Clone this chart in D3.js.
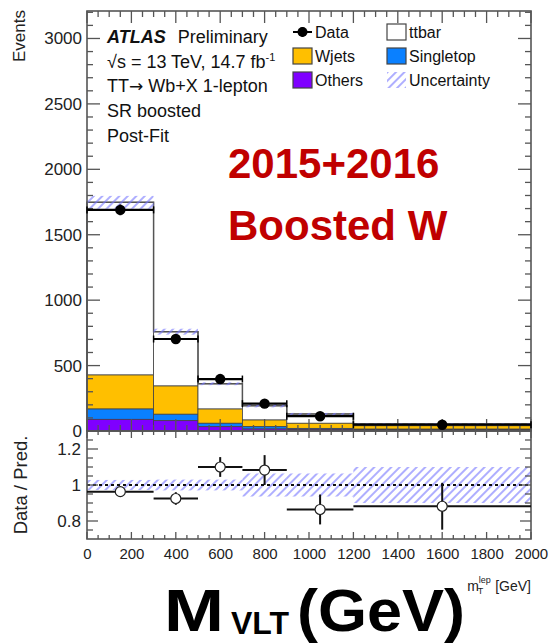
<!DOCTYPE html>
<html><head><meta charset="utf-8">
<script src="https://cdn.jsdelivr.net/npm/d3@7"></script>
<style>body{margin:0;background:#fff}svg{display:block;font-family:Arial,"Liberation Sans",sans-serif}</style>
</head><body><svg id="c" width="549" height="644"></svg>
<script>
// ---- data ----
const binEdges = [0, 300, 500, 700, 900, 1200, 2000];
const others    = [89, 79, 33, 15, 12, 8];
const singletop = [79, 49, 26, 18, 8, 6];
const wjets     = [260, 216, 109, 51, 39, 26];
const ttbar     = [1320, 415, 193, 109, 71, 14];
const dataVals  = [1690, 703, 397, 209, 113, 48];
const dataErr   = [41, 27, 20, 14, 11, 7];
const ratioVals = [0.963, 0.925, 1.10, 1.083, 0.864, 0.882];
const ratioErr  = [0.02, 0.035, 0.055, 0.083, 0.083, 0.13];
const relUnc    = [0.028, 0.03, 0.03, 0.064, 0.064, 0.10];
const xTicks = [0, 200, 400, 600, 800, 1000, 1200, 1400, 1600, 1800, 2000];
const yTicks = [0, 500, 1000, 1500, 2000, 2500, 3000];
const rTicks = [0.8, 1, 1.2];
const legendItems = [
  {name: "Data", kind: "data", col: 0, row: 0},
  {name: "Wjets", kind: "box", fill: "#FFBF00", col: 0, row: 1},
  {name: "Others", kind: "box", fill: "#7F00FF", col: 0, row: 2},
  {name: "ttbar", kind: "box", fill: "#FFFFFF", col: 1, row: 0},
  {name: "Singletop", kind: "box", fill: "#0A80FF", col: 1, row: 1},
  {name: "Uncertainty", kind: "hatch", col: 1, row: 2}
];
const colors = {ttbar: "#FFFFFF", wjets: "#FFBF00", singletop: "#0A80FF", others: "#7F00FF"};

// ---- layout ----
const svg = d3.select("#c");
const L = 87, R = 531, T = 11, MB = 431, RB = 539;
const x = d3.scaleLinear().domain([0, 2000]).range([L, R]);
const y = d3.scaleLinear().domain([0, 3210]).range([MB, T]);
const yr = d3.scaleLinear().domain([0.7, 1.3]).range([RB, MB]);
const axisCol = "#555";

const defs = svg.append("defs");
const pat = defs.append("pattern").attr("id", "hatch").attr("patternUnits", "userSpaceOnUse")
  .attr("width", 6).attr("height", 6).attr("patternTransform", "rotate(45)");
pat.append("line").attr("x1", 1).attr("y1", 0).attr("x2", 1).attr("y2", 6)
  .attr("stroke", "#7878ff").attr("stroke-width", 1.2);
defs.append("clipPath").attr("id", "clipR").append("rect").attr("x", L).attr("y", MB).attr("width", R - L).attr("height", RB - MB);

// ---- stack ----
const bins = d3.range(6).map(i => {
  const o = others[i], s = o + singletop[i], w = s + wjets[i], t = w + ttbar[i];
  return {i, x0: binEdges[i], x1: binEdges[i + 1], comps: [
    {k: "ttbar", lo: w, hi: t}, {k: "wjets", lo: s, hi: w},
    {k: "singletop", lo: o, hi: s}, {k: "others", lo: 0, hi: o}], total: t};
});
const gS = svg.append("g");
bins.forEach(b => {
  b.comps.forEach(c => {
    gS.append("rect").attr("x", x(b.x0)).attr("width", x(b.x1) - x(b.x0))
      .attr("y", y(c.hi)).attr("height", y(c.lo) - y(c.hi))
      .attr("fill", colors[c.k]).attr("stroke", "#444").attr("stroke-width", 0.8);
  });
});
let pth = `M${x(0)},${y(0)}`;
bins.forEach(b => { pth += `L${x(b.x0)},${y(b.total)}L${x(b.x1)},${y(b.total)}`; });
pth += `L${x(2000)},${y(0)}`;
svg.append("path").attr("d", pth).attr("fill", "none").attr("stroke", "#555").attr("stroke-width", 1.5);
bins.forEach(b => {
  svg.append("rect").attr("x", x(b.x0)).attr("width", x(b.x1) - x(b.x0))
    .attr("y", y(b.total * (1 + relUnc[b.i]))).attr("height", y(b.total * (1 - relUnc[b.i])) - y(b.total * (1 + relUnc[b.i])))
    .attr("fill", "url(#hatch)");
});

// ---- ratio band ----
bins.forEach(b => {
  svg.append("rect").attr("x", x(b.x0)).attr("width", x(b.x1) - x(b.x0))
    .attr("y", yr(1 + relUnc[b.i])).attr("height", yr(1 - relUnc[b.i]) - yr(1 + relUnc[b.i]))
    .attr("fill", "url(#hatch)");
});
svg.append("line").attr("x1", L).attr("x2", R).attr("y1", yr(1)).attr("y2", yr(1))
  .attr("stroke", "#111").attr("stroke-width", 2).attr("stroke-dasharray", "3,3");

// ---- axes / ticks ----
function tickLines(vals, pos, len, orient, g) {
  vals.forEach(v => {
    const p = pos(v);
    if (orient === "left") g.append("line").attr("x1", L).attr("x2", L + len).attr("y1", p).attr("y2", p);
    if (orient === "right") g.append("line").attr("x1", R).attr("x2", R - len).attr("y1", p).attr("y2", p);
    if (orient === "bottomM") g.append("line").attr("x1", p).attr("x2", p).attr("y1", MB).attr("y2", MB - len);
    if (orient === "topM") g.append("line").attr("x1", p).attr("x2", p).attr("y1", T).attr("y2", T + len);
    if (orient === "bottomR") g.append("line").attr("x1", p).attr("x2", p).attr("y1", RB).attr("y2", RB - len);
    if (orient === "topR") g.append("line").attr("x1", p).attr("x2", p).attr("y1", MB).attr("y2", MB + len);
  });
}
const gT = svg.append("g").attr("stroke", axisCol).attr("stroke-width", 1.3);
const yMinor = d3.range(0, 3201, 100).filter(v => v % 500 !== 0);
const xMinor = d3.range(0, 2001, 50).filter(v => v % 200 !== 0);
const rMinor = d3.range(0.75, 1.3, 0.05).map(v => +v.toFixed(2)).filter(v => !rTicks.includes(v));
tickLines(yTicks, y, 13, "left", gT); tickLines(yMinor, y, 6, "left", gT);
tickLines(yTicks, y, 13, "right", gT); tickLines(yMinor, y, 6, "right", gT);
tickLines(xTicks, x, 12, "bottomM", gT); tickLines(xMinor, x, 6, "bottomM", gT);
tickLines(xTicks, x, 12, "topM", gT); tickLines(xMinor, x, 6, "topM", gT);
tickLines(rTicks, yr, 11, "left", gT); tickLines(rMinor, yr, 6, "left", gT);
tickLines(rTicks, yr, 11, "right", gT); tickLines(rMinor, yr, 6, "right", gT);
tickLines(xTicks, x, 7, "bottomR", gT); tickLines(xMinor, x, 4, "bottomR", gT);
tickLines(xTicks, x, 7, "topR", gT); tickLines(xMinor, x, 4, "topR", gT);
svg.append("rect").attr("x", L).attr("y", T).attr("width", R - L).attr("height", MB - T)
  .attr("fill", "none").attr("stroke", axisCol).attr("stroke-width", 1.6);
svg.append("rect").attr("x", L).attr("y", MB).attr("width", R - L).attr("height", RB - MB)
  .attr("fill", "none").attr("stroke", axisCol).attr("stroke-width", 1.6);

const FF = "Arial, 'Liberation Sans', sans-serif";
const yAx = d3.axisLeft(y).tickValues(yTicks).tickSize(0).tickPadding(5).tickFormat(d3.format("d"));
const gy = svg.append("g").attr("transform", `translate(${L},0)`).call(yAx);
gy.select(".domain").remove();
gy.selectAll("text").attr("font-size", 17).attr("fill", "#222").attr("font-family", FF);
const rAx = d3.axisLeft(yr).tickValues(rTicks).tickSize(0).tickPadding(6).tickFormat(d => d === 1 ? "1" : d3.format(".1f")(d));
const gr = svg.append("g").attr("transform", `translate(${L},0)`).call(rAx);
gr.select(".domain").remove();
gr.selectAll("text").attr("font-size", 17).attr("fill", "#222").attr("font-family", FF);
const xAx = d3.axisBottom(x).tickValues(xTicks).tickSize(0).tickPadding(9).tickFormat(d3.format("d"));
const gx = svg.append("g").attr("transform", `translate(0,${RB})`).call(xAx);
gx.select(".domain").remove();
gx.selectAll("text").attr("font-size", 15).attr("fill", "#222").attr("font-family", FF);

// ---- data points main ----
const gD = svg.append("g");
bins.forEach(b => {
  const cx = x((b.x0 + b.x1) / 2), cy = y(dataVals[b.i]);
  gD.append("line").attr("x1", x(b.x0)).attr("x2", x(b.x1)).attr("y1", cy).attr("y2", cy).attr("stroke", "#000").attr("stroke-width", 2.2);
  [b.x0, b.x1].forEach(e => gD.append("line").attr("x1", x(e)).attr("x2", x(e)).attr("y1", cy - 3.5).attr("y2", cy + 3.5).attr("stroke", "#000").attr("stroke-width", 1.5));
  gD.append("line").attr("x1", cx).attr("x2", cx).attr("y1", y(dataVals[b.i] + dataErr[b.i])).attr("y2", y(dataVals[b.i] - dataErr[b.i])).attr("stroke", "#000").attr("stroke-width", 2.2);
  gD.append("circle").attr("cx", cx).attr("cy", cy).attr("r", 5.2).attr("fill", "#000");
});
// ---- ratio points ----
const gRr = svg.append("g").attr("clip-path", "url(#clipR)");
bins.forEach(b => {
  const cx = x((b.x0 + b.x1) / 2), cy = yr(ratioVals[b.i]);
  gRr.append("line").attr("x1", x(b.x0)).attr("x2", x(b.x1)).attr("y1", cy).attr("y2", cy).attr("stroke", "#111").attr("stroke-width", 2);
  gRr.append("line").attr("x1", cx).attr("x2", cx).attr("y1", yr(ratioVals[b.i] + ratioErr[b.i])).attr("y2", yr(ratioVals[b.i] - ratioErr[b.i])).attr("stroke", "#111").attr("stroke-width", 2);
  gRr.append("circle").attr("cx", cx).attr("cy", cy).attr("r", 5).attr("fill", "#fff").attr("stroke", "#222").attr("stroke-width", 1.2);
});

// ---- texts ----
const info = svg.append("g").attr("font-size", 18).attr("fill", "#111");
const t0 = info.append("text").attr("x", 107).attr("y", 43);
t0.append("tspan").attr("font-weight", "bold").attr("font-style", "italic").text("ATLAS");
t0.append("tspan").attr("dx", 12).text("Preliminary");
const t1 = info.append("text").attr("x", 107).attr("y", 67.5);
t1.append("tspan").text("\u221As = 13 TeV, 14.7 fb");
t1.append("tspan").attr("font-size", 11).attr("dy", -7).text("-1");
const t2 = info.append("text").attr("x", 107).attr("y", 92);
t2.append("tspan").text("TT");
t2.append("tspan").attr("font-family", "'DejaVu Sans'").attr("font-size", 17).text("\u2192");
t2.append("tspan").text(" Wb+X 1-lepton");
info.append("text").attr("x", 107).attr("y", 117).text("SR boosted");
info.append("text").attr("x", 107).attr("y", 142).text("Post-Fit");

// legend
const lg = svg.append("g");
const colX = [293, 387], rowY = [32, 56, 80];
legendItems.forEach(it => {
  const bx = colX[it.col], cy = rowY[it.row];
  if (it.kind === "data") {
    lg.append("line").attr("x1", bx).attr("x2", bx + 19).attr("y1", cy).attr("y2", cy).attr("stroke", "#000").attr("stroke-width", 2);
    lg.append("line").attr("x1", bx + 9.5).attr("x2", bx + 9.5).attr("y1", cy - 5).attr("y2", cy + 5).attr("stroke", "#000").attr("stroke-width", 2);
    lg.append("circle").attr("cx", bx + 9.5).attr("cy", cy).attr("r", 5).attr("fill", "#000");
  } else if (it.kind === "box") {
    lg.append("rect").attr("x", bx).attr("y", cy - 8).attr("width", 19).attr("height", 16).attr("fill", it.fill).attr("stroke", "#444").attr("stroke-width", 1.2);
  } else {
    lg.append("rect").attr("x", bx).attr("y", cy - 8).attr("width", 19).attr("height", 16).attr("fill", "url(#hatch)");
  }
  lg.append("text").attr("x", bx + 22).attr("y", cy + 6).attr("font-size", 16).attr("fill", "#111").text(it.name);
});

// axis titles
svg.append("text").attr("transform", "translate(25,10) rotate(-90)").attr("text-anchor", "end")
  .attr("font-size", 17).attr("fill", "#222").text("Events");
svg.append("text").attr("transform", `translate(27,${(MB + RB) / 2}) rotate(-90)`).attr("text-anchor", "middle")
  .attr("font-size", 18.5).attr("fill", "#222").text("Data / Pred.");
const xt = svg.append("text").attr("x", R).attr("y", 591).attr("text-anchor", "end").attr("font-size", 14).attr("fill", "#222");
xt.append("tspan").text("m");
xt.append("tspan").attr("font-size", 9).attr("dy", -8).text("lep");
xt.append("tspan").attr("font-size", 9).attr("dx", -13).attr("dy", 11).text("T");
xt.append("tspan").attr("dx", 8).attr("dy", -3).text(" [GeV]");

// red annotation
svg.append("text").attr("x", 228).attr("y", 178).attr("font-size", 42).attr("font-weight", "bold").attr("fill", "#C00000").text("2015+2016");
svg.append("text").attr("x", 228).attr("y", 240).attr("font-size", 42).attr("font-weight", "bold").attr("fill", "#C00000").text("Boosted W");

// big x label
const bigG = svg.append("g").attr("font-weight", "bold").attr("fill", "#000");
bigG.append("text").attr("transform", "translate(164,631) scale(1.2,1)").attr("font-size", 60).text("M");
bigG.append("text").attr("transform", "translate(231,634)").attr("font-size", 32).text("VLT");
bigG.append("text").attr("transform", "translate(297,631) scale(1.05,1)").attr("font-size", 60).text("(GeV)");
</script></body></html>
